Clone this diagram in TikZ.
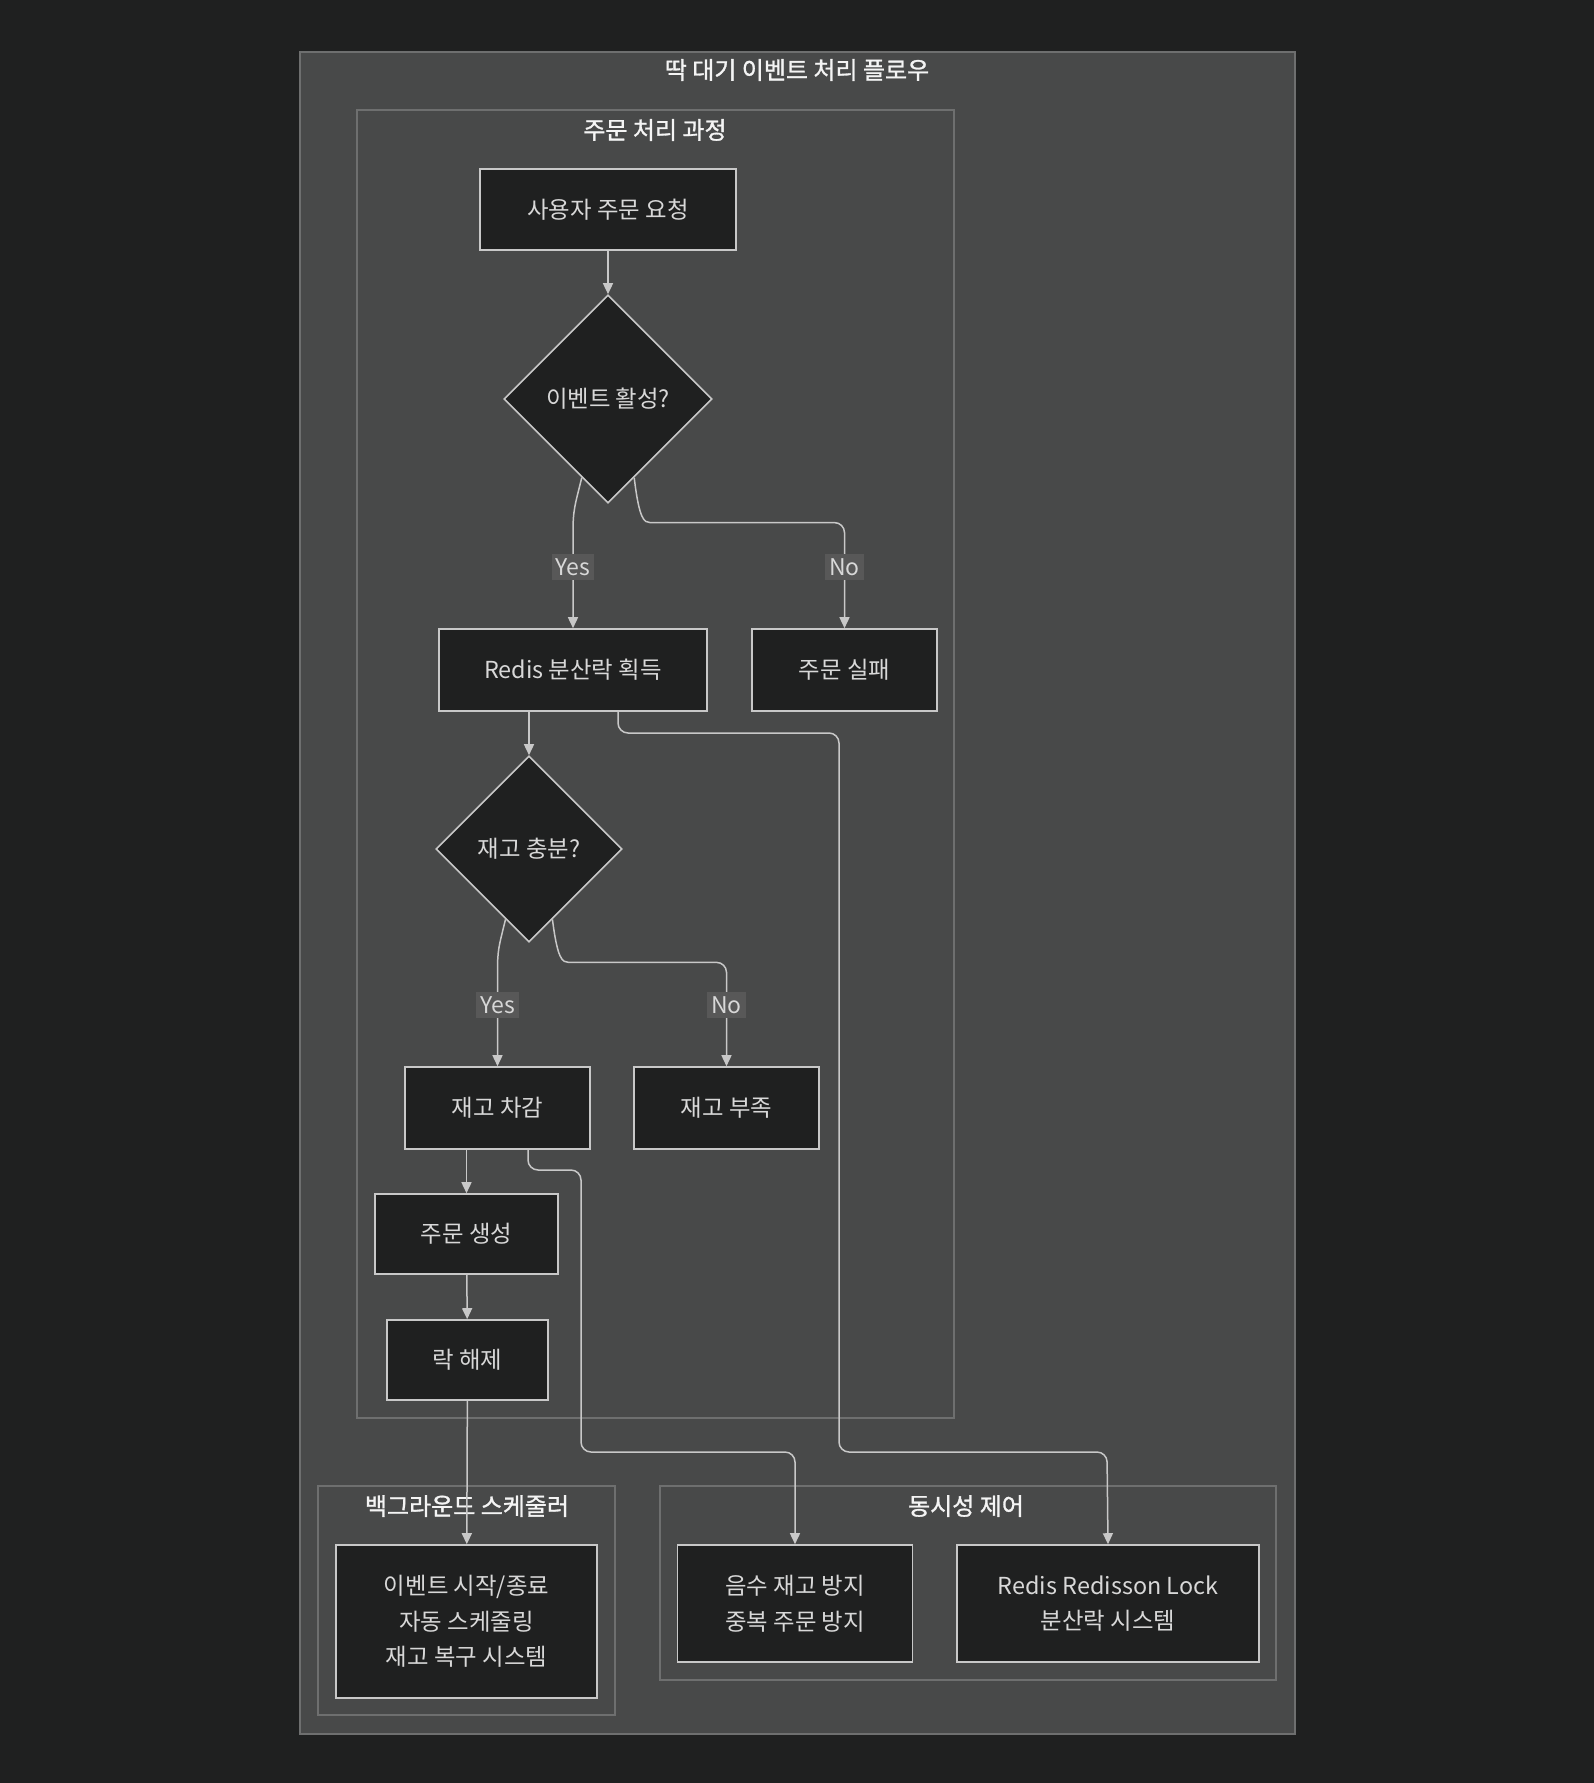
\documentclass[tikz,border=0pt]{standalone}
\usepackage{fontspec}
\setmainfont{Noto Sans CJK KR}
\newfontfamily\titlefont{Noto Sans CJK KR}[FakeBold=1.2]
\usetikzlibrary{shapes.geometric,arrows.meta,calc}
\definecolor{bgdark}{HTML}{1F2020}
\definecolor{clusterfill}{HTML}{484949}
\definecolor{clusterline}{HTML}{6E6F6F}
\definecolor{nodefill}{HTML}{1F2020}
\definecolor{nodeline}{HTML}{C8C8C8}
\definecolor{textgray}{HTML}{D8D8D8}
\definecolor{titlewhite}{HTML}{F4F4F4}
\definecolor{lblfill}{HTML}{585858}
\tikzset{
  box/.style={draw=nodeline, fill=nodefill, line width=0.8pt, text=textgray,
    inner sep=0pt, align=center, font=\fontsize{11.7pt}{17.75pt}\selectfont},
  decision/.style={diamond, draw=nodeline, fill=nodefill, line width=0.8pt, text=textgray,
    inner sep=0pt, font=\fontsize{11.7pt}{14pt}\selectfont},
  cluster/.style={draw=clusterline, fill=clusterfill, line width=0.8pt},
  title/.style={text=titlewhite, inner sep=0pt, font=\titlefont\fontsize{12pt}{14pt}\selectfont},
  flow/.style={draw=nodeline, line width=0.75pt, rounded corners=5pt,
    -{Triangle[length=5.5pt,width=5pt]}},
  lbl/.style={fill=lblfill, text=textgray, inner sep=2pt, font=\fontsize{11.5pt}{13pt}\selectfont},
}
\begin{document}
\begin{tikzpicture}[x=0.5pt,y=-0.5pt]
    \fill[bgdark] (0,0) rectangle (1594,1783);
    \useasboundingbox (0,0) rectangle (1594,1783);
    % clusters
    \draw[cluster] (300,52) rectangle (1295,1734);
    \draw[cluster] (357,110) rectangle (954,1418);
    \draw[cluster] (318,1486) rectangle (615,1715);
    \draw[cluster] (660,1486) rectangle (1276,1680);
    \node[title] (t-main) at (797,70) {딱 대기 이벤트 처리 플로우};
    \node[title] (t-order) at (655,130) {주문 처리 과정};
    \node[title] (t-sched) at (467,1506) {백그라운드 스케줄러};
    \node[title] (t-lock) at (966,1506) {동시성 제어};
    % nodes
    \node[box, minimum width=128pt, minimum height=40.5pt] (req) at (608,209.5) {사용자 주문 요청};
    \node[decision, minimum width=104pt, minimum height=104pt] (active) at (608,399) {이벤트 활성?};
    \node[box, minimum width=134pt, minimum height=41pt] (redis) at (573,670) {Redis 분산락 획득};
    \node[box, minimum width=92.5pt, minimum height=41pt] (fail) at (844.5,670) {주문 실패};
    \node[decision, minimum width=93pt, minimum height=93pt] (stock) at (529,849) {재고 충분?};
    \node[box, minimum width=92.5pt, minimum height=41pt] (deduct) at (497.5,1108) {재고 차감};
    \node[box, minimum width=92.5pt, minimum height=41pt] (short) at (726.5,1108) {재고 부족};
    \node[box, minimum width=91.5pt, minimum height=40pt] (create) at (466.5,1234) {주문 생성};
    \node[box, minimum width=80.5pt, minimum height=40pt] (release) at (467.5,1360) {락 해제};
    \node[box, minimum width=130.5pt, minimum height=76.5pt] (sched) at (466.5,1621.5) {이벤트 시작/종료\\자동 스케줄링\\재고 복구 시스템};
    \node[box, minimum width=117.5pt, minimum height=58.5pt] (negative) at (795,1603.5) {음수 재고 방지\\중복 주문 방지};
    \node[box, minimum width=151pt, minimum height=58.5pt] (redisson) at (1108,1603.5) {Redis Redisson Lock\\분산락 시스템};
    % edges
    \coordinate (a-yes) at ($(active.south)!0.25!(active.west)$);
    \coordinate (a-no) at ($(active.south)!0.25!(active.east)$);
    \coordinate (s-yes) at ($(stock.south)!0.25!(stock.west)$);
    \coordinate (s-no) at ($(stock.south)!0.25!(stock.east)$);
    \draw[flow] (req) -- (active);
    \draw[flow] (a-yes) .. controls +(-7,28) and +(0,-32) .. ($(redis.north)+(0,-86)$) -- (redis.north);
    \draw[flow] (a-no) .. controls +(5,42) and +(-16,0) .. ($(a-no)+(26,45)$) -| (fail.north);
    \draw[flow] (redis.south -| stock.north) -- (stock.north);
    \draw[flow] ($(redis.south)+(45,0)$) |- (839,733) |- (1107,1452) -- (redisson.north);
    \draw[flow] (s-yes) .. controls +(-7,28) and +(0,-32) .. ($(deduct.north)+(0,-84)$) -- (deduct.north);
    \draw[flow] (s-no) .. controls +(5,40) and +(-16,0) .. ($(s-no)+(26,43)$) -| (short.north);
    \draw[flow] (deduct.south -| create.north) -- (create.north);
    \draw[flow] ($(deduct.south)+(30.5,0)$) |- (581,1170) |- (795,1452) -- (negative.north);
    \draw[flow] (create) -- (release);
    \draw[flow] (release) -- (sched);
    % edge labels
    \node[lbl] (l-yes1) at (573,567) {Yes};
    \node[lbl] (l-no1) at (844.5,567) {No};
    \node[lbl] (l-yes2) at (497.5,1005) {Yes};
    \node[lbl] (l-no2) at (726.5,1005) {No};
\end{tikzpicture}
\end{document}
